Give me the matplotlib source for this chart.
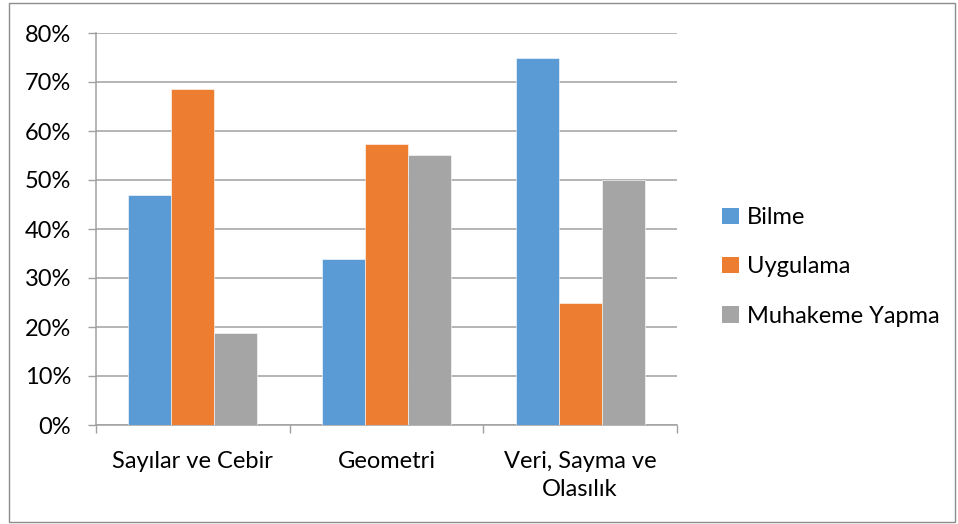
import numpy as np
import matplotlib
matplotlib.use("Agg")
import matplotlib.pyplot as plt
from matplotlib.patches import Rectangle, Patch
from matplotlib.ticker import PercentFormatter

categories = ["Sayılar ve Cebir", "Geometri", "Veri, Sayma ve\nOlasılık"]
series_names = ["Bilme", "Uygulama", "Muhakeme Yapma"]
bilme = [47.0, 33.9, 75.0]
uygulama = [68.6, 57.3, 25.0]
muhakeme = [18.7, 55.2, 50.0]
colors = ["#5B9BD5", "#ED7D31", "#A5A5A5"]

plt.rcParams["font.family"] = ["Lato", "DejaVu Sans"]
fs = 17

fig = plt.figure(figsize=(9.58, 5.24), dpi=100)
ax = fig.add_axes([96 / 958, 1 - 425 / 524, 581 / 958, 392 / 524])

# outer chart frame
fig.patches.append(Rectangle((9 / 958, 2 / 524), 946 / 958, 519 / 524,
                             transform=fig.transFigure, fill=False,
                             edgecolor="#8c8c8c", linewidth=1))

x = np.arange(len(categories))
w = 0.222
for i, (vals, name) in enumerate(zip([bilme, uygulama, muhakeme], series_names)):
    ax.bar(x + (i - 1) * w, vals, width=w, color=colors[i], label=name,
           edgecolor="white", linewidth=0.4, zorder=3)

ax.set_xlim(-0.5, 2.5)
ax.set_ylim(0, 80)
ax.set_yticks(np.arange(0, 81, 10))
ax.yaxis.set_major_formatter(PercentFormatter(decimals=0))
ax.grid(axis="y", color="#a0a0a0", linewidth=1.1, zorder=0)

ax.set_xticks(x)
ax.set_xticklabels(categories, linespacing=1.4)
ax.set_xticks([-0.5, 0.5, 1.5, 2.5], minor=True)
ax.tick_params(axis="x", which="major", length=0, pad=19, labelsize=fs)
ax.tick_params(axis="x", which="minor", length=6, width=1, color="#a0a0a0")
ax.tick_params(axis="y", length=6, width=1, color="#a0a0a0", pad=12, labelsize=fs)

for s in ["top", "right"]:
    ax.spines[s].set_visible(False)
for s in ["left", "bottom"]:
    ax.spines[s].set_color("#a0a0a0")
    ax.spines[s].set_linewidth(1.1)

handles = [Patch(facecolor=c) for c in colors]
fig.legend(handles, series_names, loc="center left",
           bbox_to_anchor=(701 / 958, 1 - 267 / 524), frameon=False,
           fontsize=fs, handlelength=0.7, handleheight=0.7,
           handletextpad=0.35, labelspacing=1.2)

fig.savefig("out.png", dpi=100)
